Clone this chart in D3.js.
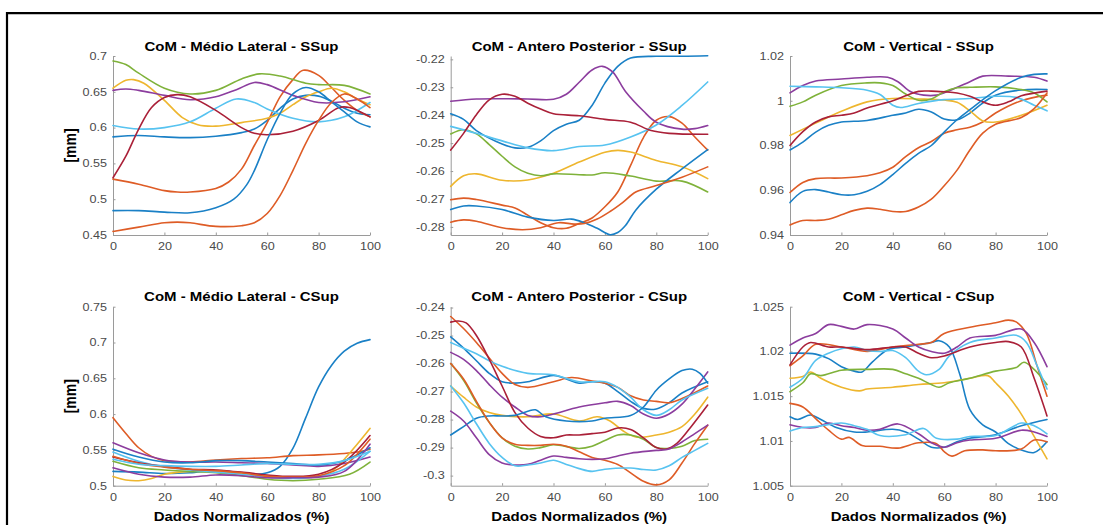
<!DOCTYPE html>
<html lang="en">
<head>
<meta charset="UTF-8">
<title>CoM - SSup / CSup</title>
<style>
  body { margin:0; background:#fff; }
  svg { display:block; }
</style>
</head>
<body>
<svg width="1103" height="525"></svg>
<script src="https://cdnjs.cloudflare.com/ajax/libs/d3/7.8.5/d3.min.js"></script>
<script>
// ---- data ----
const xTicks = [0, 20, 40, 60, 80, 100];
const titles = [
  'CoM - Médio Lateral - SSup', 'CoM - Antero Posterior - SSup', 'CoM - Vertical - SSup',
  'CoM - Médio Lateral - CSup', 'CoM - Antero Posterior - CSup', 'CoM - Vertical - CSup'
];
const xLabel = 'Dados Normalizados (%)';
const yLabel = '[mm]';

const yTicksMLS = [0.45, 0.5, 0.55, 0.6, 0.65, 0.7];
const yTicksAPS = [-0.28, -0.27, -0.26, -0.25, -0.24, -0.23, -0.22];
const yTicksVS  = [0.94, 0.96, 0.98, 1, 1.02];
const yTicksMLC = [0.5, 0.55, 0.6, 0.65, 0.7, 0.75];
const yTicksAPC = [-0.3, -0.29, -0.28, -0.27, -0.26, -0.25, -0.24];
const yTicksVC  = [1.005, 1.01, 1.015, 1.02, 1.025];

const yLimMLS = [0.45, 0.7];
const yLimAPS = [-0.2829, -0.2188];
const yLimVS  = [0.94, 1.02];
const yLimMLC = [0.5, 0.75];
const yLimAPC = [-0.3036, -0.2397];
const yLimVC  = [1.005, 1.025];

// one array of [x%, value] per trial
const mlSSup = [
  [[0,0.587],[10,0.589],[20,0.587],[30,0.586],[40,0.588],[50,0.593],[55,0.598],[60,0.61],[65,0.627],[70,0.64],[75,0.645],[80,0.644],[85,0.637],[90,0.627],[95,0.62],[100,0.618]],
  [[0,0.528],[10,0.521],[20,0.512],[25,0.51],[30,0.51],[40,0.515],[45,0.524],[50,0.542],[55,0.575],[60,0.607],[65,0.643],[70,0.667],[74,0.68],[80,0.673],[85,0.656],[90,0.638],[95,0.624],[100,0.615]],
  [[0,0.655],[5,0.666],[8,0.667],[12,0.662],[20,0.638],[27,0.614],[33,0.604],[40,0.602],[50,0.607],[60,0.613],[65,0.62],[70,0.632],[75,0.643],[80,0.65],[85,0.655],[90,0.65],[95,0.64],[100,0.632]],
  [[0,0.652],[5,0.654],[10,0.652],[20,0.645],[30,0.639],[40,0.643],[48,0.653],[55,0.663],[60,0.66],[70,0.645],[80,0.635],[90,0.636],[100,0.643]],
  [[0,0.693],[5,0.688],[10,0.676],[20,0.655],[30,0.647],[40,0.652],[50,0.668],[57,0.675],[65,0.672],[75,0.662],[80,0.66],[90,0.659],[100,0.647]],
  [[0,0.603],[10,0.598],[20,0.6],[30,0.608],[40,0.627],[48,0.64],[55,0.635],[60,0.626],[70,0.613],[80,0.608],[90,0.615],[100,0.635]],
  [[0,0.53],[5,0.56],[10,0.598],[15,0.628],[20,0.642],[25,0.646],[30,0.643],[40,0.624],[50,0.6],[55,0.592],[60,0.59],[70,0.595],[80,0.61],[88,0.628],[92,0.628],[100,0.615]],
  [[0,0.484],[10,0.484],[20,0.482],[30,0.481],[40,0.488],[47,0.5],[52,0.52],[55,0.54],[60,0.583],[65,0.62],[70,0.647],[75,0.656],[80,0.65],[85,0.636],[90,0.622],[95,0.608],[100,0.601]],
  [[0,0.455],[10,0.461],[20,0.467],[25,0.468],[30,0.467],[40,0.462],[50,0.463],[55,0.467],[60,0.48],[65,0.505],[70,0.54],[75,0.578],[80,0.61],[85,0.635],[90,0.647],[95,0.64],[100,0.628]]
];

const apSSup = [
  [[0,-0.2395],[5,-0.2415],[10,-0.2455],[20,-0.2503],[25,-0.2517],[30,-0.2515],[35,-0.2492],[40,-0.2455],[45,-0.2432],[50,-0.2418],[55,-0.2365],[60,-0.2285],[65,-0.2225],[70,-0.2195],[80,-0.2189],[90,-0.2189],[100,-0.2187]],
  [[0,-0.2703],[5,-0.2697],[10,-0.2702],[20,-0.2722],[25,-0.2732],[30,-0.2758],[35,-0.2785],[40,-0.2803],[45,-0.2805],[50,-0.2788],[55,-0.2768],[60,-0.2728],[65,-0.2675],[70,-0.258],[75,-0.248],[80,-0.2418],[85,-0.2405],[90,-0.2428],[95,-0.2478],[100,-0.2525]],
  [[0,-0.2655],[5,-0.2617],[10,-0.261],[20,-0.2633],[30,-0.2632],[40,-0.2608],[50,-0.2568],[60,-0.2533],[65,-0.2526],[70,-0.2532],[80,-0.2562],[90,-0.2585],[100,-0.2627]],
  [[0,-0.235],[10,-0.2342],[20,-0.2341],[30,-0.2342],[40,-0.2343],[45,-0.2325],[50,-0.2282],[55,-0.2238],[59,-0.2225],[63,-0.2245],[68,-0.2315],[75,-0.2385],[80,-0.2425],[90,-0.245],[95,-0.2448],[100,-0.2437]],
  [[0,-0.2467],[5,-0.2452],[10,-0.2467],[15,-0.2505],[20,-0.2547],[25,-0.2585],[30,-0.2608],[35,-0.2617],[40,-0.261],[50,-0.2613],[55,-0.2614],[60,-0.2606],[70,-0.2618],[80,-0.2636],[90,-0.2636],[100,-0.2675]],
  [[0,-0.244],[10,-0.2465],[20,-0.2492],[30,-0.2517],[40,-0.2527],[50,-0.2512],[60,-0.2507],[70,-0.2478],[80,-0.2435],[90,-0.2365],[100,-0.2281]],
  [[0,-0.2525],[5,-0.2465],[10,-0.2398],[15,-0.2345],[20,-0.2325],[25,-0.2332],[30,-0.2357],[35,-0.2378],[40,-0.2395],[50,-0.2402],[60,-0.2415],[70,-0.2425],[78,-0.2455],[85,-0.2465],[100,-0.2468]],
  [[0,-0.2738],[5,-0.2725],[10,-0.2725],[20,-0.2738],[30,-0.2765],[40,-0.2777],[47,-0.2772],[52,-0.2785],[57,-0.2805],[62,-0.2828],[65,-0.282],[68,-0.2795],[72,-0.274],[80,-0.2665],[90,-0.2592],[100,-0.2523]],
  [[0,-0.2783],[5,-0.2775],[10,-0.278],[20,-0.2803],[28,-0.281],[35,-0.2803],[42,-0.2785],[48,-0.279],[52,-0.2788],[57,-0.2772],[62,-0.2745],[67,-0.2712],[72,-0.2675],[80,-0.2652],[90,-0.2622],[100,-0.2585]]
];

const vSSup = [
  [[0,0.978],[5,0.9815],[10,0.986],[15,0.989],[20,0.9905],[30,0.9912],[40,0.9935],[45,0.9945],[50,0.9962],[55,0.995],[60,0.9918],[65,0.9915],[70,0.9945],[75,0.999],[80,1.0025],[90,1.0048],[100,1.005]],
  [[0,0.959],[5,0.9635],[10,0.9652],[20,0.9655],[30,0.9665],[35,0.9678],[40,0.9703],[45,0.975],[50,0.979],[55,0.9818],[60,0.9855],[65,0.987],[70,0.9882],[75,0.9905],[80,0.9945],[90,1.0],[100,1.0025]],
  [[0,0.9845],[10,0.99],[20,0.9953],[30,0.9995],[40,1.001],[50,1.0008],[60,1.0003],[65,0.9993],[70,0.9955],[75,0.991],[80,0.9905],[90,0.9935],[100,0.998]],
  [[0,1.0035],[5,1.0068],[10,1.0088],[20,1.0097],[30,1.0105],[38,1.0105],[42,1.0085],[47,1.004],[52,1.0025],[57,1.0025],[62,1.0045],[70,1.0085],[75,1.011],[85,1.011],[95,1.0105],[100,1.0088]],
  [[0,0.9975],[5,0.9995],[10,1.0025],[20,1.0068],[30,1.008],[35,1.008],[40,1.0068],[45,1.003],[50,1.0002],[55,1.0008],[60,1.004],[65,1.0058],[70,1.006],[80,1.0062],[90,1.005],[95,1.0035],[100,0.9995]],
  [[0,1.0065],[10,1.0062],[20,1.0058],[30,1.0047],[35,1.0028],[40,0.998],[43,0.997],[50,0.9988],[60,1.0005],[70,1.001],[80,1.002],[88,1.0015],[95,0.998],[100,0.9955]],
  [[0,0.98],[5,0.9862],[10,0.9905],[15,0.9928],[20,0.9935],[25,0.9945],[30,0.9968],[40,1.0],[45,1.0022],[50,1.0042],[55,1.0043],[60,1.004],[65,1.0035],[70,1.002],[75,0.9995],[80,0.998],[85,0.9995],[90,1.0022],[100,1.0043]],
  [[0,0.9545],[5,0.9595],[10,0.9603],[15,0.9592],[20,0.958],[25,0.958],[30,0.9595],[35,0.9625],[40,0.967],[45,0.972],[50,0.9765],[55,0.98],[60,0.986],[65,0.9915],[70,0.996],[80,1.0045],[90,1.0105],[95,1.0118],[100,1.012]],
  [[0,0.9445],[5,0.9465],[10,0.9465],[15,0.947],[20,0.949],[25,0.951],[30,0.952],[35,0.9515],[40,0.9505],[45,0.9505],[50,0.9525],[55,0.956],[60,0.962],[65,0.969],[70,0.978],[75,0.9855],[80,0.9895],[90,0.9925],[95,0.9965],[100,1.0035]]
];

const mlCSup = [
  [[0,0.52],[10,0.519],[20,0.517],[30,0.518],[40,0.521],[50,0.518],[56,0.516],[60,0.518],[65,0.527],[70,0.552],[75,0.595],[80,0.638],[85,0.668],[90,0.688],[95,0.699],[100,0.704]],
  [[0,0.595],[5,0.573],[10,0.553],[15,0.541],[20,0.535],[30,0.533],[40,0.536],[50,0.538],[60,0.539],[70,0.542],[80,0.543],[90,0.545],[95,0.547],[100,0.551]],
  [[0,0.513],[5,0.508],[10,0.507],[15,0.51],[20,0.516],[30,0.52],[40,0.52],[50,0.517],[60,0.513],[70,0.511],[80,0.513],[85,0.52],[90,0.537],[95,0.558],[100,0.58]],
  [[0,0.56],[10,0.546],[20,0.536],[30,0.533],[40,0.533],[50,0.532],[60,0.531],[70,0.529],[80,0.527],[90,0.531],[100,0.54]],
  [[0,0.534],[10,0.525],[20,0.522],[30,0.52],[40,0.518],[50,0.514],[60,0.509],[70,0.507],[80,0.509],[92,0.516],[100,0.533]],
  [[0,0.547],[10,0.534],[20,0.526],[30,0.522],[40,0.519],[50,0.516],[60,0.512],[70,0.51],[80,0.513],[90,0.523],[100,0.548]],
  [[0,0.54],[10,0.532],[20,0.527],[30,0.523],[40,0.522],[50,0.519],[60,0.515],[70,0.513],[80,0.516],[90,0.533],[100,0.57]],
  [[0,0.551],[10,0.54],[20,0.533],[30,0.532],[40,0.535],[50,0.535],[60,0.533],[70,0.531],[80,0.529],[90,0.535],[100,0.553]],
  [[0,0.541],[10,0.531],[20,0.526],[30,0.523],[40,0.521],[50,0.518],[60,0.513],[70,0.512],[80,0.514],[90,0.528],[100,0.565]],
  [[0,0.525],[10,0.516],[20,0.512],[30,0.512],[40,0.515],[50,0.514],[60,0.511],[70,0.511],[80,0.512],[90,0.52],[100,0.558]],
  [[0,0.537],[10,0.53],[20,0.528],[30,0.527],[40,0.527],[50,0.529],[60,0.531],[70,0.53],[80,0.53],[90,0.535],[100,0.548]]
];

const apCSup = [
  [[0,-0.2505],[5,-0.2545],[10,-0.259],[15,-0.2635],[20,-0.2665],[25,-0.267],[30,-0.2665],[40,-0.2642],[45,-0.2655],[50,-0.267],[55,-0.2665],[60,-0.267],[65,-0.27],[70,-0.2735],[75,-0.276],[80,-0.2762],[85,-0.274],[90,-0.2705],[100,-0.2665]],
  [[0,-0.2432],[5,-0.2475],[10,-0.2525],[15,-0.258],[20,-0.2635],[25,-0.2675],[30,-0.2685],[40,-0.2665],[47,-0.265],[55,-0.2662],[60,-0.267],[65,-0.2685],[70,-0.2715],[75,-0.273],[80,-0.2735],[85,-0.274],[90,-0.2725],[100,-0.268]],
  [[0,-0.268],[5,-0.272],[10,-0.2755],[15,-0.2775],[20,-0.2785],[30,-0.279],[40,-0.278],[50,-0.2805],[57,-0.279],[62,-0.2805],[67,-0.284],[72,-0.2862],[80,-0.2855],[85,-0.2845],[90,-0.2825],[95,-0.278],[100,-0.272]],
  [[0,-0.256],[5,-0.2585],[10,-0.2625],[15,-0.2675],[20,-0.272],[25,-0.2755],[30,-0.2785],[35,-0.279],[40,-0.278],[50,-0.2755],[60,-0.274],[65,-0.2735],[70,-0.275],[75,-0.278],[80,-0.2795],[85,-0.278],[90,-0.2745],[95,-0.269],[100,-0.263]],
  [[0,-0.26],[5,-0.266],[10,-0.274],[15,-0.281],[20,-0.2865],[25,-0.2895],[30,-0.2905],[35,-0.29],[40,-0.289],[50,-0.2903],[55,-0.2895],[60,-0.2875],[65,-0.2855],[70,-0.2855],[75,-0.287],[80,-0.29],[85,-0.2903],[90,-0.2895],[95,-0.2875],[100,-0.287]],
  [[0,-0.2525],[5,-0.2545],[10,-0.2565],[15,-0.259],[20,-0.261],[30,-0.2635],[40,-0.264],[50,-0.2665],[60,-0.2665],[65,-0.2685],[70,-0.272],[75,-0.2765],[80,-0.2785],[85,-0.2765],[90,-0.273],[100,-0.2688]],
  [[0,-0.2452],[3,-0.2448],[6,-0.2455],[10,-0.25],[15,-0.2585],[20,-0.268],[25,-0.2775],[30,-0.283],[35,-0.286],[40,-0.2865],[45,-0.2855],[50,-0.2855],[55,-0.285],[60,-0.2845],[65,-0.283],[70,-0.2835],[75,-0.2865],[80,-0.29],[84,-0.2905],[88,-0.2885],[94,-0.282],[100,-0.2748]],
  [[0,-0.2855],[5,-0.2825],[10,-0.2795],[15,-0.2787],[20,-0.2787],[25,-0.2785],[30,-0.277],[33,-0.2765],[37,-0.279],[45,-0.2805],[55,-0.2805],[60,-0.2795],[70,-0.2785],[75,-0.2755],[80,-0.2695],[85,-0.2655],[90,-0.2625],[94,-0.262],[97,-0.2635],[100,-0.267]],
  [[0,-0.26],[5,-0.2655],[10,-0.2735],[15,-0.281],[20,-0.2865],[25,-0.2888],[30,-0.2892],[35,-0.2892],[40,-0.2888],[45,-0.2895],[50,-0.2915],[55,-0.2935],[60,-0.2945],[65,-0.296],[70,-0.299],[75,-0.302],[80,-0.3033],[85,-0.3015],[90,-0.2955],[95,-0.2885],[100,-0.282]],
  [[0,-0.277],[5,-0.2805],[10,-0.2865],[15,-0.2925],[20,-0.2955],[25,-0.2962],[30,-0.296],[35,-0.2945],[40,-0.293],[45,-0.2935],[50,-0.294],[55,-0.2942],[60,-0.294],[65,-0.293],[70,-0.292],[80,-0.291],[85,-0.2905],[90,-0.288],[95,-0.285],[100,-0.282]],
  [[0,-0.268],[5,-0.274],[10,-0.2815],[15,-0.2885],[20,-0.2935],[25,-0.2965],[30,-0.2962],[35,-0.2955],[40,-0.2945],[45,-0.296],[50,-0.2975],[55,-0.2985],[60,-0.2977],[70,-0.2973],[75,-0.2978],[80,-0.298],[85,-0.2965],[90,-0.2935],[95,-0.291],[100,-0.2885]]
];

const vCSup = [
  [[0,1.0198],[10,1.0197],[15,1.0192],[20,1.0183],[25,1.0178],[28,1.0177],[32,1.0188],[38,1.0202],[45,1.0205],[55,1.021],[58,1.0212],[62,1.0205],[66,1.0175],[70,1.0135],[75,1.0118],[80,1.011],[85,1.0097],[90,1.009],[95,1.0087],[100,1.0099]],
  [[0,1.0184],[5,1.0195],[10,1.0208],[20,1.0205],[30,1.02],[40,1.0205],[50,1.0208],[55,1.021],[60,1.022],[70,1.0227],[80,1.0232],[85,1.0235],[88,1.0233],[92,1.022],[96,1.0185],[100,1.015]],
  [[0,1.017],[5,1.0172],[8,1.0177],[12,1.017],[20,1.016],[27,1.0156],[30,1.0158],[40,1.016],[50,1.0163],[60,1.0165],[70,1.017],[77,1.0173],[80,1.0165],[85,1.015],[90,1.013],[95,1.0105],[100,1.008]],
  [[0,1.0207],[5,1.0215],[10,1.022],[15,1.023],[20,1.0228],[25,1.0225],[30,1.023],[40,1.0225],[45,1.0215],[50,1.0205],[55,1.02],[60,1.0198],[65,1.0205],[70,1.0215],[80,1.0218],[90,1.0225],[95,1.021],[100,1.0183]],
  [[0,1.0155],[5,1.0165],[8,1.0175],[12,1.0173],[20,1.0179],[30,1.018],[40,1.018],[45,1.0175],[50,1.017],[55,1.0163],[58,1.016],[62,1.0165],[70,1.017],[80,1.0178],[88,1.0182],[91,1.0188],[95,1.018],[100,1.0163]],
  [[0,1.016],[5,1.017],[10,1.019],[15,1.0198],[20,1.0203],[25,1.0205],[30,1.0201],[35,1.02],[40,1.0201],[45,1.0193],[50,1.0178],[53,1.0174],[58,1.018],[62,1.0195],[70,1.021],[80,1.0215],[88,1.0218],[92,1.021],[96,1.0185],[100,1.0158]],
  [[0,1.0185],[5,1.0205],[8,1.021],[15,1.0205],[20,1.0205],[30,1.0202],[40,1.0205],[45,1.0205],[50,1.0198],[55,1.0193],[60,1.0195],[70,1.0205],[80,1.021],[85,1.0211],[90,1.0205],[95,1.017],[100,1.0128]],
  [[0,1.0127],[3,1.0124],[8,1.0129],[12,1.0124],[18,1.0115],[25,1.011],[30,1.011],[40,1.0113],[45,1.011],[50,1.0102],[55,1.0093],[60,1.0093],[65,1.0099],[70,1.0103],[80,1.0107],[90,1.0117],[100,1.0124]],
  [[0,1.0142],[5,1.0138],[10,1.0125],[15,1.0112],[20,1.0102],[23,1.0104],[28,1.0095],[35,1.0094],[42,1.0092],[50,1.0098],[57,1.0097],[60,1.0088],[63,1.0083],[68,1.0089],[75,1.009],[80,1.0089],[90,1.0091],[95,1.0101],[100,1.0099]],
  [[0,1.0118],[5,1.0115],[10,1.0115],[15,1.012],[20,1.0117],[25,1.0115],[30,1.0112],[35,1.0113],[42,1.0119],[50,1.0108],[55,1.0098],[60,1.0093],[65,1.0098],[70,1.0101],[80,1.0103],[90,1.0112],[95,1.011],[100,1.0105]],
  [[0,1.0111],[5,1.0115],[10,1.0116],[20,1.012],[25,1.0117],[30,1.0113],[35,1.0106],[45,1.0107],[52,1.0114],[57,1.0103],[65,1.0102],[70,1.0105],[80,1.0106],[90,1.012],[95,1.0117],[100,1.0108]]
];

// ---- styles ----
// MATLAB colour order, a touch lighter as it looks in the reference
const palette = { b:'#1a80c6', o:'#de5c26', y:'#eeb62e', p:'#8c3d9e', g:'#7fb23a', c:'#57c3f0', m:'#aa2038' };
const colorsTop = ['b','o','y','p','g','c','m','b','o'];
const colorsBottom = ['b','o','y','p','g','c','m','b','o','p','c'];
const font = '"Liberation Sans", Arial, Helvetica, sans-serif';
const sx = 1.2; // the reference is stretched horizontally
const axisColor = '#9a9a9a';
const tickColor = '#4a4a4a';

// ---- layout ----
const colX = [113, 450.7, 790];
const rowY = [56, 306.7];
const plotW = 257, plotH = 179;

const panels = [
  { title: titles[0], series: mlSSup, lim: yLimMLS, ticks: yTicksMLS, row: 0, col: 0, colors: colorsTop },
  { title: titles[1], series: apSSup, lim: yLimAPS, ticks: yTicksAPS, row: 0, col: 1, colors: colorsTop },
  { title: titles[2], series: vSSup,  lim: yLimVS,  ticks: yTicksVS,  row: 0, col: 2, colors: colorsTop },
  { title: titles[3], series: mlCSup, lim: yLimMLC, ticks: yTicksMLC, row: 1, col: 0, colors: colorsBottom },
  { title: titles[4], series: apCSup, lim: yLimAPC, ticks: yTicksAPC, row: 1, col: 1, colors: colorsBottom },
  { title: titles[5], series: vCSup,  lim: yLimVC,  ticks: yTicksVC,  row: 1, col: 2, colors: colorsBottom }
];

const svg = d3.select('svg');
const fmt = v => String(+v.toFixed(4));

function label(sel, x, y, str, size, bold, rotate) {
  return sel.append('text')
    .attr('transform', `translate(${x},${y}) scale(${sx},1)` + (rotate ? ' rotate(-90)' : ''))
    .attr('text-anchor', 'middle')
    .attr('font-family', font)
    .attr('font-size', size)
    .attr('font-weight', bold ? 'bold' : 'normal')
    .attr('fill', '#000')
    .text(str);
}

panels.forEach(p => {
  const g = svg.append('g').attr('transform', `translate(${colX[p.col]},${rowY[p.row]})`);
  const x = d3.scaleLinear().domain([0, 100]).range([0, plotW]);
  const y = d3.scaleLinear().domain(p.lim).range([plotH, 0]);

  const xa = g.append('g').attr('transform', `translate(0,${plotH})`)
    .call(d3.axisBottom(x).tickValues(xTicks).tickSize(-2.5).tickSizeOuter(0).tickPadding(8).tickFormat(fmt));
  const ya = g.append('g')
    .call(d3.axisLeft(y).tickValues(p.ticks).tickSize(-2.5).tickSizeOuter(0).tickPadding(5).tickFormat(fmt));

  [xa, ya].forEach(a => {
    a.attr('font-family', font).attr('font-size', 10.5);
    a.select('.domain').attr('stroke', axisColor);
    a.selectAll('.tick line').attr('stroke', axisColor);
    a.selectAll('.tick text').attr('fill', tickColor).attr('transform', `scale(${sx},1)`);
  });

  const line = d3.line()
    .x(d => x(d[0]))
    .y(d => y(d[1]))
    .curve(d3.curveCatmullRom.alpha(0.5));

  g.selectAll('path.trial')
    .data(p.series)
    .join('path')
    .attr('class', 'trial')
    .attr('d', line)
    .attr('fill', 'none')
    .attr('stroke', (d, i) => palette[p.colors[i]])
    .attr('stroke-width', 1.6)
    .attr('stroke-linejoin', 'round')
    .attr('stroke-linecap', 'round');

  label(g, plotW / 2, -5.5, p.title, 12.5, true);
  if (p.col === 0) label(g, -37, plotH / 2, yLabel, 14, true, true);
  if (p.row === 1) label(g, plotW / 2, plotH + 35, xLabel, 12.5, true);
});

// frame around the figure (only left and top edges are visible)
svg.append('path')
  .attr('d', 'M7,525V13.2H1103')
  .attr('fill', 'none')
  .attr('stroke', '#000')
  .attr('stroke-width', 2.2);
</script>
</body>
</html>
